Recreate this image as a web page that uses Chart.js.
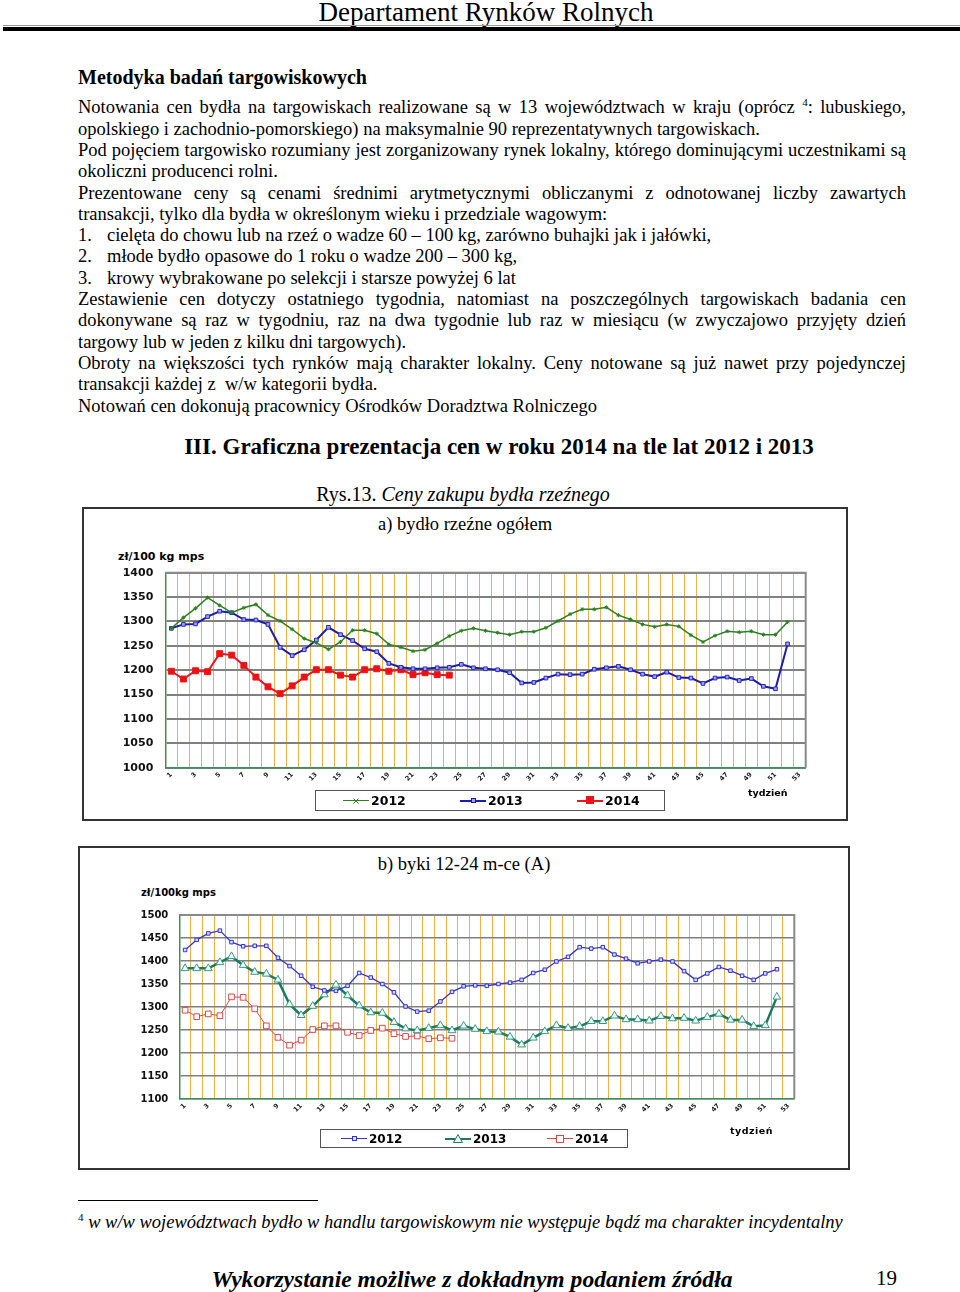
<!DOCTYPE html>
<html lang="pl">
<head>
<meta charset="utf-8">
<title>Ceny zakupu bydła rzeźnego</title>
<script src="https://cdn.jsdelivr.net/npm/chart.js@4.4.1/dist/chart.umd.min.js"></script>
<style>
  html, body { margin: 0; padding: 0; background: #fff; }
  body { width: 960px; height: 1292px; position: relative; overflow: hidden; font-family: 'Liberation Serif', 'Times New Roman', serif; color: #000; }
  .abs { position: absolute; white-space: nowrap; }
  .hdr { left: 0; width: 972px; top: -4px; text-align: center; font-size: 27px; line-height: 32px; }
  .rule { left: 3px; width: 957px; top: 27px; height: 4px; background: #000; }
  .rule2 { left: 3px; width: 957px; top: 25px; height: 1px; background: #999; }
  .h1 { left: 78px; top: 65px; font-size: 20px; font-weight: bold; line-height: 24px; }
  .txt { left: 78px; top: 97.35px; width: 828px; font-size: 18.5px; line-height: 21.3px; }
  .txt div { white-space: nowrap; height: 21.3px; }
  .txt .j { text-align: justify; text-align-last: justify; white-space: normal; }
  .txt sup { font-size: 11px; line-height: 0; vertical-align: 7px; }
  .num { display: inline-block; width: 29px; }
  .h2 { left: 0; width: 998px; top: 433px; text-align: center; font-size: 23px; font-weight: bold; line-height: 28px; }
  .rys { left: 0; width: 926px; top: 482px; text-align: center; font-size: 20px; line-height: 24px; }
  .box { border: 2px solid #333; box-sizing: border-box; }
  .ctitle { text-align: center; font-size: 18.5px; line-height: 22px; }
  .sans { font-family: 'DejaVu Sans', sans-serif; font-weight: bold; }
  .legend { border: 1px solid #555; box-sizing: border-box; background: #fff; }
  .litem { position: absolute; top: 0; height: 100%; display: flex; align-items: center; }
  .foot { left: 78px; top: 1200px; width: 240px; height: 1px; background: #000; }
  .fn { left: 78px; top: 1211px; font-size: 18.5px; line-height: 22px; }
  .fn sup { font-size: 11px; vertical-align: 7px; line-height: 0; font-style: normal; }
  .footer { left: 0; width: 944px; top: 1265px; text-align: center; font-size: 23.6px; font-weight: bold; font-style: italic; line-height: 28px; }
  .page { left: 876px; top: 1265px; font-size: 21px; line-height: 26px; }
  canvas { position: absolute; }
</style>
</head>
<body>

<div class="abs hdr">Departament Rynków Rolnych</div>
<div class="abs rule2"></div>
<div class="abs rule"></div>

<div class="abs h1">Metodyka badań targowiskowych</div>
<div class="abs txt">
  <div class="j">Notowania cen bydła na targowiskach realizowane są w 13 województwach w kraju (oprócz <sup>4</sup>: lubuskiego,</div>
  <div>opolskiego i zachodnio-pomorskiego) na maksymalnie 90 reprezentatywnych targowiskach.</div>
  <div class="j">Pod pojęciem targowisko rozumiany jest zorganizowany rynek lokalny, którego dominującymi uczestnikami są</div>
  <div>okoliczni producenci rolni.</div>
  <div class="j">Prezentowane ceny są cenami średnimi arytmetycznymi obliczanymi z odnotowanej liczby zawartych</div>
  <div>transakcji, tylko dla bydła w określonym wieku i przedziale wagowym:</div>
  <div><span class="num">1.</span>cielęta do chowu lub na rzeź o wadze 60 – 100 kg, zarówno buhajki jak i jałówki,</div>
  <div><span class="num">2.</span>młode bydło opasowe do 1 roku o wadze 200 – 300 kg,</div>
  <div><span class="num">3.</span>krowy wybrakowane po selekcji i starsze powyżej 6 lat</div>
  <div class="j">Zestawienie cen dotyczy ostatniego tygodnia, natomiast na poszczególnych targowiskach badania cen</div>
  <div class="j">dokonywane są raz w tygodniu, raz na dwa tygodnie lub raz w miesiącu (w zwyczajowo przyjęty dzień</div>
  <div>targowy lub w jeden z kilku dni targowych).</div>
  <div class="j">Obroty na większości tych rynków mają charakter lokalny. Ceny notowane są już nawet przy pojedynczej</div>
  <div>transakcji każdej z &nbsp;w/w kategorii bydła.</div>
  <div>Notowań cen dokonują pracownicy Ośrodków Doradztwa Rolniczego</div>
</div>

<div class="abs h2">III. Graficzna prezentacja cen w roku 2014 na tle lat 2012 i 2013</div>
<div class="abs rys">Rys.13. <i>Ceny zakupu bydła rzeźnego</i></div>

<!-- chart a -->
<div class="abs box" style="left:82px;top:507px;width:766px;height:314px;"></div>
<div class="abs ctitle" style="left:82px;top:513px;width:766px;">a) bydło rzeźne ogółem</div>
<div class="abs sans" style="left:118px;top:550px;font-size:11px;">zł/100 kg mps</div>
<canvas id="chartA" width="762" height="260" style="left:84px;top:540px;"></canvas>
<div class="abs sans" style="left:748px;top:787px;font-size:9.5px;">tydzień</div>
<div class="abs legend" id="legendA" style="left:315px;top:790px;width:350px;height:21px;"></div>

<!-- chart b -->
<div class="abs box" style="left:78px;top:846px;width:772px;height:324px;"></div>
<div class="abs ctitle" style="left:78px;top:853px;width:772px;">b) byki 12-24 m-ce (A)</div>
<div class="abs sans" style="left:141px;top:887px;font-size:10px;">zł/100kg mps</div>
<canvas id="chartB" width="768" height="250" style="left:80px;top:880px;"></canvas>
<div class="abs sans" style="left:730px;top:1125px;font-size:9.5px;letter-spacing:0.5px;">tydzień</div>
<div class="abs legend" id="legendB" style="left:320px;top:1129px;width:308px;height:19px;"></div>

<div class="abs foot"></div>
<div class="abs fn"><sup>4</sup> <i>w w/w województwach bydło w handlu targowiskowym nie występuje bądź ma charakter incydentalny</i></div>
<div class="abs footer">Wykorzystanie możliwe z dokładnym podaniem źródła</div>
<div class="abs page">19</div>

<script>
// tygodnie (oś X)
const weeks = ['1','2','3','4','5','6','7','8','9','10','11','12','13','14','15','16','17','18','19','20',
  '21','22','23','24','25','26','27','28','29','30','31','32','33','34','35','36','37','38','39','40',
  '41','42','43','44','45','46','47','48','49','50','51','52','53'];
const years = ['2012', '2013', '2014'];

// a) bydło rzeźne ogółem, zł/100 kg mps
const bydlo2012 = [1286,1308,1327,1349,1333,1318,1328,1335,1313,1301,
  1284,1265,1256,1243,1258,1282,1282,1275,1253,1247,
  1239,1242,1255,1270,1281,1286,1281,1277,1273,1279,
  1279,1287,1301,1315,1325,1325,1329,1313,1304,1294,
  1289,1294,1290,1272,1258,1271,1280,1278,1280,1273,
  1273,1299];
const bydlo2013 = [1286,1294,1295,1310,1321,1318,1304,1303,1294,1247,
  1230,1242,1262,1288,1273,1261,1244,1238,1214,1206,
  1203,1203,1205,1206,1212,1205,1203,1201,1195,1174,
  1175,1184,1192,1191,1192,1202,1205,1208,1201,1192,
  1187,1196,1185,1184,1173,1184,1186,1179,1183,1167,
  1162,1254];
const bydlo2014 = [1198,1182,1199,1197,1234,1231,1210,1186,1166,1152,
  1168,1186,1201,1201,1190,1186,1201,1203,1198,1201,
  1191,1195,1191,1190];
const ticksA = [1000, 1050, 1100, 1150, 1200, 1250, 1300, 1350, 1400];

// b) byki 12-24 m-ce (A), zł/100kg mps
const byki2012 = [1424,1446,1460,1466,1441,1432,1433,1433,1407,1389,
  1368,1344,1336,1335,1346,1374,1364,1350,1332,1301,
  1290,1292,1312,1333,1345,1347,1346,1350,1353,1359,
  1374,1381,1399,1409,1430,1427,1430,1414,1405,1395,
  1399,1403,1399,1378,1359,1373,1387,1379,1368,1359,
  1373,1382];
const byki2013 = [1384,1384,1384,1397,1410,1391,1376,1372,1359,1306,
  1282,1302,1327,1348,1325,1303,1288,1287,1267,1253,
  1249,1254,1260,1249,1259,1252,1247,1246,1235,1218,
  1233,1247,1260,1254,1258,1269,1269,1281,1273,1273,
  1270,1280,1275,1276,1270,1278,1285,1272,1272,1258,
  1260,1322];
const byki2014 = [1293,1279,1285,1281,1322,1321,1296,1259,1234,1217,
  1228,1251,1259,1259,1245,1238,1249,1254,1242,1236,
  1237,1231,1233,1232];
const ticksB = [1100, 1150, 1200, 1250, 1300, 1350, 1400, 1450, 1500];

// gray frame on top/right of the plot
const framePlugin = {
  id: 'frame',
  afterDraw(chart) {
    const { ctx, chartArea: a } = chart;
    ctx.save();
    ctx.strokeStyle = '#8a8a8a';
    ctx.lineWidth = 2;
    ctx.beginPath();
    ctx.moveTo(a.left, a.top);
    ctx.lineTo(a.right, a.top);
    ctx.lineTo(a.right, a.bottom);
    ctx.stroke();
    ctx.restore();
  }
};

function makeChart(id, datasets, ticks, opts) {
  const ctx = document.getElementById(id).getContext('2d');
  return new Chart(ctx, {
    type: 'line',
    data: { labels: weeks, datasets },
    options: {
      responsive: false,
      animation: false,
      devicePixelRatio: 1,
      layout: { padding: { left: 0, right: opts.right, top: opts.top, bottom: 0 } },
      plugins: { legend: { display: false }, tooltip: { enabled: false } },
      scales: {
        x: {
          offset: true,
          grid: { offset: true, color: '#efb04a', lineWidth: 1, drawTicks: false },
          border: { color: '#3f8f5a', width: 1.5 },
          ticks: {
            autoSkip: false, maxRotation: 45, minRotation: 45, padding: 3,
            color: '#222',
            font: { family: 'DejaVu Sans', weight: 'bold', size: 6.5 },
            callback: (v, i) => (i % 2 === 0 ? weeks[i] : '')
          },
          afterFit: s => { s.height = opts.xh; }
        },
        y: {
          min: ticks[0], max: ticks[ticks.length - 1],
          afterBuildTicks: s => { s.ticks = ticks.map(v => ({ value: v })); },
          grid: { color: '#808080', lineWidth: opts.gridW, drawTicks: false },
          border: { color: '#3f8f5a', width: 1.5 },
          ticks: {
            padding: opts.tickPad, color: '#111',
            font: { family: 'DejaVu Sans', weight: 'bold', size: opts.tickSize },
            callback: v => String(v)
          },
          afterFit: s => { s.width = opts.yw; }
        }
      }
    },
    plugins: [framePlugin]
  });
}

makeChart('chartA', [
  { label: years[0], data: bydlo2012, borderColor: '#2d7f1f', borderWidth: 1.5, tension: 0,
    pointStyle: 'star', pointRadius: 2, pointBorderWidth: 1, pointBorderColor: '#2d7f1f', pointBackgroundColor: '#2d7f1f' },
  { label: years[1], data: bydlo2013, borderColor: '#1c1caa', borderWidth: 2, tension: 0,
    pointStyle: 'rect', pointRadius: 2.6, pointBorderWidth: 1, pointBorderColor: '#2a2ab8', pointBackgroundColor: '#a0a0ff' },
  { label: years[2], data: bydlo2014, borderColor: '#e8161e', borderWidth: 2, tension: 0,
    pointStyle: 'rect', pointRadius: 4.2, pointBorderWidth: 1, pointBorderColor: '#e8161e', pointBackgroundColor: '#ee1111' }
], ticksA, { right: 40.3, top: 32.7, xh: 32.2, yw: 81.3, tickPad: 12, tickSize: 11, gridW: 2 });

makeChart('chartB', [
  { label: years[0], data: byki2012, borderColor: '#3636c4', borderWidth: 1.3, tension: 0,
    pointStyle: 'rect', pointRadius: 2.5, pointBorderWidth: 1, pointBorderColor: '#3636c4', pointBackgroundColor: '#dcdcff' },
  { label: years[1], data: byki2013, borderColor: '#1b7a62', borderWidth: 2.5, tension: 0,
    pointStyle: 'triangle', pointRadius: 4.5, pointBorderWidth: 1, pointBorderColor: '#3a9a80', pointBackgroundColor: '#eef8f4' },
  { label: years[2], data: byki2014, borderColor: '#d84a4a', borderWidth: 1, tension: 0,
    pointStyle: 'rect', pointRadius: 4, pointBorderWidth: 1, pointBorderColor: '#d84a4a', pointBackgroundColor: '#ffffff' }
], ticksB, { right: 53.7, top: 35, xh: 31, yw: 99.3, tickPad: 11, tickSize: 10, gridW: 1.6 });

// legends (HTML, real text)
function marker(kind, color, fill) {
  if (kind === 'tri') {
    return `<svg width="10" height="9" style="position:absolute;left:8px;top:-4px"><polygon points="5,0.5 9.5,8.5 0.5,8.5" fill="${fill}" stroke="${color}" stroke-width="1"/></svg>`;
  }
  if (kind === 'x') {
    return `<svg width="6" height="6" style="position:absolute;left:10px;top:-2px"><path d="M0.5 0.5L5.5 5.5M5.5 0.5L0.5 5.5" stroke="${color}" stroke-width="1"/></svg>`;
  }
  const s = kind === 'big' ? 8 : 5;
  return `<svg width="${s}" height="${s}" style="position:absolute;left:${13 - s / 2}px;top:${-s / 2 + 0.5}px"><rect x="0.5" y="0.5" width="${s - 1}" height="${s - 1}" fill="${fill}" stroke="${color}" stroke-width="1"/></svg>`;
}

function buildLegend(id, items, fontSize) {
  const el = document.getElementById(id);
  el.innerHTML = items.map(it => `
    <div class="litem" style="left:${it.x}px">
      <span style="position:relative;display:inline-block;width:26px;height:${it.lw}px;background:${it.color}">${marker(it.kind, it.color, it.fill)}</span>
      <span class="sans" style="font-size:${fontSize}px;margin-left:2px">${it.label}</span>
    </div>`).join('');
}

buildLegend('legendA', [
  { x: 27, label: years[0], color: '#2d7f1f', fill: '#2d7f1f', kind: 'x', lw: 1.5 },
  { x: 144, label: years[1], color: '#1c1caa', fill: '#a0a0ff', kind: 'small', lw: 2 },
  { x: 261, label: years[2], color: '#e8161e', fill: '#ee1111', kind: 'big', lw: 2 }
], 12.5);

buildLegend('legendB', [
  { x: 20, label: years[0], color: '#3636c4', fill: '#dcdcff', kind: 'small', lw: 1.5 },
  { x: 124, label: years[1], color: '#1b7a62', fill: '#eef8f4', kind: 'tri', lw: 2 },
  { x: 226, label: years[2], color: '#d84a4a', fill: '#ffffff', kind: 'big', lw: 1 }
], 12);
</script>
</body>
</html>
